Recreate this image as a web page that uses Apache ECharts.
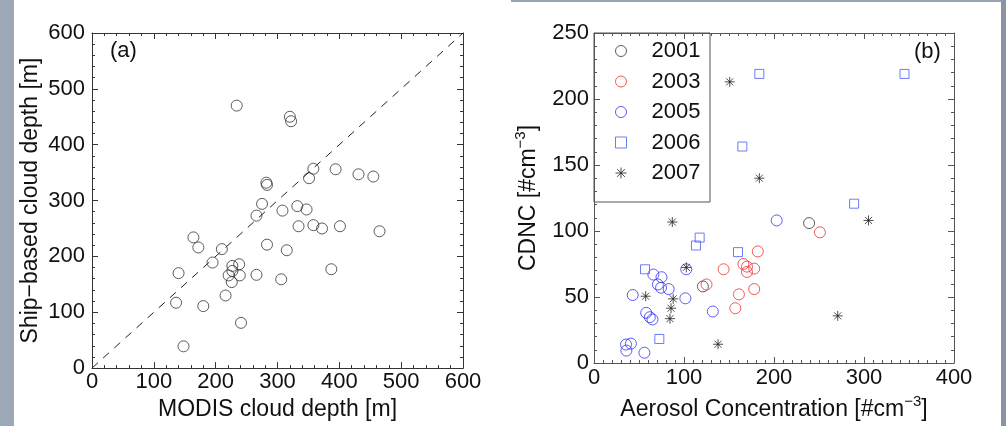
<!DOCTYPE html>
<html>
<head>
<meta charset="utf-8">
<script src="https://cdn.jsdelivr.net/npm/echarts@6/dist/echarts.min.js"></script>
<style>
html,body{margin:0;padding:0;width:1006px;height:426px;overflow:hidden;background:#9ca7b7;}
#bgwhite{position:absolute;left:14px;top:0;width:987px;height:426px;background:#fff;}
#topstrip{position:absolute;left:511px;top:0;width:495px;height:2px;background:#97a2b2;}
#rightstrip{position:absolute;left:1001px;top:0;width:5px;height:426px;background:#8a94a4;}
#chart{position:absolute;left:0;top:0;width:1006px;height:426px;}
</style>
</head>
<body>
<div id="bgwhite"></div><div id="topstrip"></div><div id="rightstrip"></div>
<div id="chart"></div>
<script>
// Panel (a): MODIS vs ship-based cloud depth [m]
const depthPoints = [
  [234,470],[320,450],[322,442],[358,357],[351,340],[394,356],[431,347],[455,343],
  [282,332],[283,328],[275,294],[266,273],[308,282],[332,290],[347,284],[334,254],
  [358,256],[372,250],[401,254],[465,245],[164,234],[172,216],[210,213],[283,221],
  [315,211],[195,189],[227,183],[238,186],[227,174],[221,166],[239,166],[226,154],
  [266,167],[306,159],[387,177],[140,170],[136,117],[180,111],[216,130],[241,81],[148,39]
];
const oneToOneLine = [[0,0],[600,600]];

// Panel (b): aerosol concentration vs CDNC
const years = ['2001','2003','2005','2006','2007'];
const cdnc2001 = [[239,106],[121,58]];
const cdnc2003 = [[251,99],[182,84.5],[144,71],[166,75],[170,73],[170,69],[178,71.5],[178,56],[161,52],[157,41.5],[125,59.5]];
const cdnc2005 = [[203,108],[101.5,49],[132,39],[102.5,71],[43,51.5],[66,67],[75,65],[71,59.5],[74.5,57],[83,56],[58,38],[62,34.7],[65,33],[35.6,14],[41,14.7],[36,9.4],[56,7.8]];
const cdnc2006 = [[183.7,219],[345,219],[164.8,164],[289,120.7],[117.4,95],[113.3,89],[160,84],[56.7,71],[72.6,18.2]];
const cdnc2007 = [[150.8,213],[183.7,140],[87,106.8],[305,108],[102.6,72.4],[57.4,50.6],[88,48.6],[85.6,41.5],[84.4,33.6],[137.8,14.2],[270.8,35.7]];

const FONT = 'Liberation Sans, Arial, Helvetica, sans-serif';
const TXT = '#111';
const starPath = 'path://M5,0L5,10M0,5L10,5M1.5,1.5L8.5,8.5M1.5,8.5L8.5,1.5';

function axisBase(min, max, interval, minorSplit, lineColor, showLabels, pos, gridIndex, extra) {
  return Object.assign({
    type: 'value', gridIndex: gridIndex, position: pos, min: min, max: max, interval: interval,
    axisLine: {show: true, onZero: false, lineStyle: {color: lineColor, width: 1}},
    axisTick: {show: true, inside: true, length: 6, lineStyle: {color: lineColor, width: 1}},
    minorTick: {show: true, splitNumber: minorSplit, length: 3, lineStyle: {color: lineColor, width: 1}},
    splitLine: {show: false},
    axisLabel: {show: showLabels, fontSize: 22, fontFamily: FONT, color: TXT},
  }, extra || {});
}

const chart = echarts.init(document.getElementById('chart'), null, {renderer: 'canvas'});
const option = {
  animation: false,
  backgroundColor: 'transparent',
  grid: [
    {left: 92, top: 33, width: 371, height: 336},
    {left: 594, top: 33, width: 360, height: 330}
  ],
  xAxis: [
    axisBase(0, 600, 100, 5, '#333', true, 'bottom', 0, {
      name: 'MODIS cloud depth [m]', nameLocation: 'middle', nameGap: 27,
      nameTextStyle: {fontSize: 23, fontFamily: FONT, color: TXT},
      axisLabel: {show: true, fontSize: 22, fontFamily: FONT, color: TXT, margin: 3}
    }),
    axisBase(0, 400, 100, 10, '#555', true, 'bottom', 1, {
      name: 'Aerosol Concentration [#cm{sup|−3}]', nameLocation: 'middle', nameGap: 27,
      nameTextStyle: {fontSize: 23, fontFamily: FONT, color: TXT,
        rich: {sup: {fontSize: 15, fontFamily: FONT, color: TXT, padding: [0, 0, 16, 0]}}},
      axisLabel: {show: true, fontSize: 22, fontFamily: FONT, color: TXT, margin: 4}
    }),
    axisBase(0, 600, 100, 5, '#333', false, 'top', 0),
    axisBase(0, 400, 100, 10, '#555', false, 'top', 1)
  ],
  yAxis: [
    axisBase(0, 600, 100, 5, '#333', true, 'left', 0, {
      name: 'Ship\u2212based cloud depth [m]', nameLocation: 'middle', nameGap: 50, nameRotate: 90,
      nameTextStyle: {fontSize: 23, fontFamily: FONT, color: TXT},
      axisLabel: {show: true, fontSize: 22, fontFamily: FONT, color: TXT, margin: 7}
    }),
    axisBase(0, 250, 50, 5, '#555', true, 'left', 1, {
      name: 'CDNC [#cm{sup|−3}]', nameLocation: 'middle', nameGap: 50, nameRotate: 90,
      nameTextStyle: {fontSize: 23, fontFamily: FONT, color: TXT,
        rich: {sup: {fontSize: 15, fontFamily: FONT, color: TXT, padding: [0, 0, 16, 0]}}},
      axisLabel: {show: true, fontSize: 22, fontFamily: FONT, color: TXT, margin: 5}
    }),
    axisBase(0, 600, 100, 5, '#333', false, 'right', 0),
    axisBase(0, 250, 50, 5, '#555', false, 'right', 1)
  ],
  legend: {
    data: years,
    left: 615, top: 39, orient: 'vertical', padding: 0,
    itemWidth: 11, itemHeight: 11, itemGap: 6.5,
    selectedMode: false,
    itemStyle: {borderWidth: 1},
    textStyle: {fontSize: 22, fontFamily: FONT, color: TXT, lineHeight: 24, padding: [0, 0, 0, 20]}
  },
  graphic: [
    {type: 'rect', silent: true, z: 5, shape: {x: 594, y: 33, width: 116, height: 169},
     style: {fill: 'none', stroke: '#555', lineWidth: 1}},
    {type: 'text', left: 110, top: 40, silent: true,
     style: {text: '(a)', font: '22px ' + FONT, fill: TXT}},
    {type: 'text', left: 914, top: 41, silent: true,
     style: {text: '(b)', font: '22px ' + FONT, fill: TXT}}
  ],
  series: [
    {type: 'line', xAxisIndex: 0, yAxisIndex: 0, data: oneToOneLine, symbol: 'none', silent: true,
     lineStyle: {color: '#222', width: 1, type: [8, 7]}, z: 1},
    {type: 'scatter', xAxisIndex: 0, yAxisIndex: 0, data: depthPoints, symbol: 'circle', symbolSize: 11,
     itemStyle: {color: 'rgba(0,0,0,0)', borderColor: '#333', borderWidth: 1}},
    {name: '2001', type: 'scatter', xAxisIndex: 1, yAxisIndex: 1, data: cdnc2001, symbol: 'circle', symbolSize: 11,
     itemStyle: {color: 'rgba(0,0,0,0)', borderColor: '#333', borderWidth: 1}},
    {name: '2003', type: 'scatter', xAxisIndex: 1, yAxisIndex: 1, data: cdnc2003, symbol: 'circle', symbolSize: 11,
     itemStyle: {color: 'rgba(0,0,0,0)', borderColor: '#f03030', borderWidth: 1}},
    {name: '2005', type: 'scatter', xAxisIndex: 1, yAxisIndex: 1, data: cdnc2005, symbol: 'circle', symbolSize: 11,
     itemStyle: {color: 'rgba(0,0,0,0)', borderColor: '#3434f0', borderWidth: 1}},
    {name: '2006', type: 'scatter', xAxisIndex: 1, yAxisIndex: 1, data: cdnc2006, symbol: 'rect', symbolSize: 9,
     itemStyle: {color: 'rgba(0,0,0,0)', borderColor: '#4a5cf5', borderWidth: 1}},
    {name: '2007', type: 'scatter', xAxisIndex: 1, yAxisIndex: 1, data: cdnc2007, symbol: starPath, symbolSize: 10,
     itemStyle: {color: '#222', borderColor: '#222', borderWidth: 1}}
  ]
};
chart.setOption(option);
</script>
</body>
</html>
